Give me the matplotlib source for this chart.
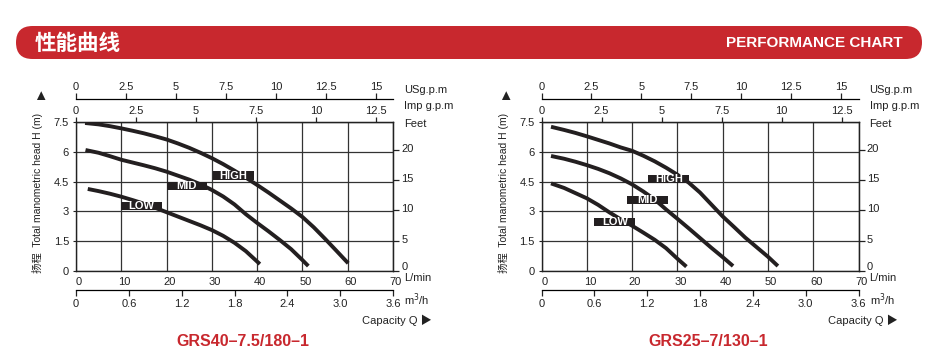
import matplotlib.pyplot as plt
from matplotlib.patches import FancyBboxPatch, Rectangle
from matplotlib.transforms import ScaledTranslation

plt.rcParams['font.family'] = ['Liberation Sans', 'Noto Sans CJK SC', 'DejaVu Sans']

W, H = 950, 360

# axis ticks
flow_ticks = [0, 10, 20, 30, 40, 50, 60, 70]
head_ticks = [0, 1.5, 3, 4.5, 6, 7.5]
head_labels = ['0', '1.5', '3', '4.5', '6', '7.5']
feet_ticks = [0, 5, 10, 15, 20]
us_ticks = [0, 2.5, 5, 7.5, 10, 12.5, 15]
us_labels = ['0', '2.5', '5', '7.5', '10', '12.5', '15']
imp_ticks = [0, 2.5, 5, 7.5, 10, 12.5]
imp_labels = ['0', '2.5', '5', '7.5', '10', '12.5']
m3h_ticks = [0, 0.6, 1.2, 1.8, 2.4, 3.0, 3.6]
m3h_labels = ['0', '0.6', '1.2', '1.8', '2.4', '3.0', '3.6']

# scales as printed on the sheet
us_per_lmin = 15 / 66.2
imp_per_lmin = 12.5 / 66.3
m3h_per_lmin = 3.6 / 70
feet_per_m = 3.281

speeds = ['HIGH', 'MID', 'LOW']

# GRS40-7.5/180-1
a_q_high = [2, 5, 7.5, 10, 12.5, 15, 17.5, 20, 22.5, 25, 27.5, 30, 32.5, 35, 37.5, 40,
            42.5, 45, 47.5, 50, 52.5, 55, 57.5, 60.1]
a_h_high = [7.45, 7.38, 7.29, 7.18, 7.06, 6.93, 6.78, 6.62, 6.42, 6.2, 5.95, 5.68, 5.38,
            5.05, 4.7, 4.33, 3.95, 3.55, 3.15, 2.72, 2.2, 1.62, 1.02, 0.39]
a_q_mid = [2.1, 5, 7.5, 10, 12.5, 15, 17.5, 20, 22.5, 25, 27.5, 30, 32.5, 35, 37.5, 40,
           42.5, 45, 47.5, 50, 51.3]
a_h_mid = [6.09, 5.95, 5.78, 5.6, 5.46, 5.32, 5.17, 5.0, 4.8, 4.6, 4.36, 4.08, 3.75,
           3.35, 2.86, 2.42, 2.0, 1.56, 1.1, 0.55, 0.25]
a_q_low = [2.6, 5, 7.5, 10, 12.5, 15, 17.5, 20, 22.5, 25, 27.5, 30, 32.5, 35, 37.5, 40.6]
a_h_low = [4.13, 4.02, 3.89, 3.74, 3.57, 3.39, 3.18, 2.96, 2.74, 2.52, 2.3, 2.06, 1.77,
           1.42, 1.0, 0.35]
a_label_q = [34.7, 24.5, 14.5]
a_label_h = [4.8, 4.28, 3.28]

# GRS25-7/130-1
b_q_high = [2.1, 5, 7.5, 10, 12.5, 15, 17.5, 20, 22.5, 25, 27.5, 30, 32.5, 35, 37.5, 40,
            42.5, 45, 47.5, 50, 52.2]
b_h_high = [7.26, 7.1, 6.95, 6.78, 6.6, 6.42, 6.22, 6.05, 5.8, 5.52, 5.2, 4.85, 4.45,
            3.95, 3.35, 2.75, 2.22, 1.68, 1.2, 0.72, 0.25]
b_q_mid = [2.1, 5, 7.5, 10, 12.5, 15, 17.5, 20, 22.5, 25, 27.5, 30, 32.5, 35, 37.5, 40, 42.3]
b_h_mid = [5.79, 5.65, 5.5, 5.33, 5.14, 4.92, 4.66, 4.36, 4.0, 3.6, 3.1, 2.63, 2.15,
           1.66, 1.17, 0.7, 0.25]
b_q_low = [2.1, 5, 7.5, 10, 12.5, 15, 17.5, 20, 22.5, 25, 27.5, 30, 32]
b_h_low = [4.41, 4.18, 3.92, 3.66, 3.33, 2.95, 2.6, 2.28, 1.93, 1.57, 1.15, 0.62, 0.22]
b_label_q = [28.1, 23.4, 16.2]
b_label_h = [4.64, 3.58, 2.47]

ink = '#231f20'
txt = '#222222'
red = '#c8282e'


def fx(x):
    return x / W


def fy(y):
    return 1 - y / H


fig = plt.figure(figsize=(W / 100, H / 100), dpi=100)

# header bar
bar = FancyBboxPatch((0.16, 3.01), 9.06, 0.33, boxstyle='round,pad=0,rounding_size=0.165',
                     transform=fig.dpi_scale_trans, facecolor=red, edgecolor='none')
fig.patches.append(bar)
fig.text(fx(35), fy(43), '性能曲线', color='white', fontsize=15.5, fontweight='bold',
         family=['Noto Sans CJK SC'], va='center', ha='left')
fig.text(fx(903), fy(43), 'PERFORMANCE CHART', color='white', fontsize=11, fontweight='bold',
         va='center', ha='right')


def draw_chart(x0, model, curves, label_q, label_h):
    ax = fig.add_axes([fx(x0), fy(271), 317 / W, 149 / H])
    for q, h in curves:
        ax.plot(q, h, color=ink, lw=2.8, solid_capstyle='butt', solid_joinstyle='round',
                zorder=3)
    for name, lq, lh in zip(speeds, label_q, label_h):
        ax.add_patch(Rectangle((lq - 4.5, lh - 0.21), 9, 0.42, facecolor=ink,
                               edgecolor='none', zorder=4))
        ax.text(lq, lh, name, color='white', fontsize=8, fontweight='bold',
                ha='center', va='center', zorder=5)
    ax.set_xlim(0, 70)
    ax.set_ylim(0, 7.5)
    ax.set_xticks(flow_ticks)
    ax.set_yticks(head_ticks, head_labels)
    ax.grid(True, color='#333333', lw=0.9)
    ax.set_axisbelow(True)
    for s in ax.spines.values():
        s.set_color(txt)
        s.set_linewidth(1)
    ax.tick_params(axis='x', length=0, pad=4, labelsize=8, colors=txt)
    ax.tick_params(axis='y', length=2, pad=3, labelsize=8, colors=txt)
    offset = ScaledTranslation(3 / 100, 0, fig.dpi_scale_trans)
    for lab in ax.get_xticklabels():
        lab.set_transform(lab.get_transform() + offset)

    imp = ax.secondary_xaxis('top', functions=(lambda q: q * imp_per_lmin,
                                               lambda v: v / imp_per_lmin))
    imp.set_xticks(imp_ticks, imp_labels)
    imp.tick_params(length=3.5, width=0.9, pad=1, labelsize=8, colors=txt)

    us = ax.secondary_xaxis(1 + 23 / 149, functions=(lambda q: q * us_per_lmin,
                                                     lambda v: v / us_per_lmin))
    us.set_xticks(us_ticks, us_labels)
    us.tick_params(length=4, width=0.9, pad=1, labelsize=8, colors=txt)
    us.spines['top'].set_linewidth(0.9)

    m3 = ax.secondary_xaxis(-18.5 / 149, functions=(lambda q: q * m3h_per_lmin,
                                                    lambda v: v / m3h_per_lmin))
    m3.set_xticks(m3h_ticks, m3h_labels)
    m3.tick_params(length=4.5, width=0.9, pad=2, labelsize=8, colors=txt)
    m3.spines['bottom'].set_linewidth(0.9)

    ft = ax.secondary_yaxis('right', functions=(lambda m: m * feet_per_m,
                                                lambda f: f / feet_per_m))
    ft.set_yticks(feet_ticks)
    ft.tick_params(length=4, width=0.9, pad=2, labelsize=8, colors=txt)
    up = ScaledTranslation(0, 2 / 100, fig.dpi_scale_trans)
    for lab in ft.get_yticklabels():
        lab.set_transform(lab.get_transform() + up)
    zero = ft.get_yticklabels()[0]
    zero.set_transform(zero.get_transform() + ScaledTranslation(0, 3 / 100, fig.dpi_scale_trans))

    dx = x0 - 76
    fig.text(fx(404 + dx), fy(90), 'USg.p.m', fontsize=8, va='center', color=txt)
    fig.text(fx(404 + dx), fy(106), 'Imp g.p.m', fontsize=8, va='center', color=txt)
    fig.text(fx(404 + dx), fy(124), 'Feet', fontsize=8, va='center', color=txt)
    fig.text(fx(404 + dx), fy(278), 'L/min', fontsize=8, va='center', color=txt)
    fig.text(fx(404 + dx), fy(300), 'm$^3$/h', fontsize=8, va='center', color=txt)
    fig.text(fx(432 + dx), fy(320), 'Capacity Q ▶', fontsize=8, va='center', ha='right',
             color=txt)
    fig.text(fx(40 + dx), fy(96), '▲', fontsize=10.5, va='center', ha='center', color=txt)
    fig.text(fx(38 + dx), fy(193), '扬程  Total manometric head H (m)', fontsize=7.5,
             rotation=90, va='center', ha='center', color=txt)
    fig.text(fx(243 + dx), fy(342), model, fontsize=11.5, fontweight='bold', color=red,
             ha='center', va='center')
    return ax


draw_chart(76, 'GRS40–7.5/180–1',
           [(a_q_high, a_h_high), (a_q_mid, a_h_mid), (a_q_low, a_h_low)],
           a_label_q, a_label_h)
draw_chart(541.5, 'GRS25–7/130–1',
           [(b_q_high, b_h_high), (b_q_mid, b_h_mid), (b_q_low, b_h_low)],
           b_label_q, b_label_h)

fig.savefig('out.png', dpi=100)
